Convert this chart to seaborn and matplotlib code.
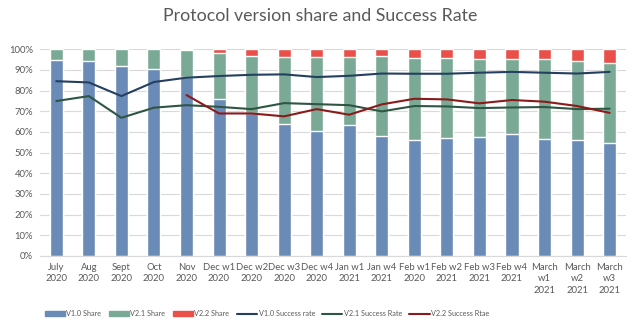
import numpy as np
import pandas as pd
import matplotlib
matplotlib.use("Agg")
import matplotlib.pyplot as plt
import seaborn as sns
from matplotlib.patches import Patch
from matplotlib.lines import Line2D

categories = ["July\n2020", "Aug\n2020", "Sept\n2020", "Oct\n2020", "Nov\n2020",
              "Dec w1\n2020", "Dec w2\n2020", "Dec w3\n2020", "Dec w4\n2020",
              "Jan w1\n2021", "Jan w4\n2021", "Feb w1\n2020", "Feb w2\n2021",
              "Feb w3\n2021", "Feb w4\n2021", "March\nw1\n2021", "March\nw2\n2021",
              "March\nw3\n2021"]

v10_share = [94.8, 94.2, 91.8, 90.3, 86.5, 75.8, 69.0, 63.8, 60.5, 63.1, 58.1,
             56.0, 57.2, 57.5, 58.9, 56.7, 56.0, 54.6]
v21_share = [5.2, 5.8, 8.2, 9.7, 13.0, 22.3, 27.9, 32.2, 35.5, 32.9, 38.5,
             39.8, 38.3, 37.5, 36.1, 38.3, 38.5, 38.5]
v22_share = [0.0, 0.0, 0.0, 0.0, 0.5, 1.9, 3.1, 4.0, 4.0, 4.0, 3.4,
             4.2, 4.5, 5.0, 5.0, 5.0, 5.5, 6.9]

v10_rate = [84.5, 83.9, 77.3, 84.1, 86.2, 87.0, 87.6, 87.8, 86.5, 87.1, 88.2,
            88.1, 88.1, 88.6, 89.0, 88.6, 88.2, 89.0]
v21_rate = [74.9, 77.3, 66.8, 71.7, 72.9, 72.1, 71.0, 73.9, 73.4, 72.9, 69.9,
            72.5, 72.3, 71.5, 71.8, 72.0, 71.0, 71.2]
v22_rate = [np.nan, np.nan, np.nan, np.nan, 77.8, 68.9, 68.9, 67.5, 71.0, 68.3, 73.3,
            76.0, 75.7, 73.8, 75.4, 74.6, 72.5, 69.2]

c_blue, c_green, c_red = "#6A8BB6", "#7AAA96", "#E9504A"
c_l1, c_l2, c_l3 = "#243F60", "#2F5543", "#8B1A1A"

sns.set_style("white")
plt.rcParams['font.family'] = ['Lato', 'DejaVu Sans']

fig = plt.figure(figsize=(6.4, 3.32), dpi=100)
ax = fig.add_axes([0.0625, 0.229, 0.9155, 0.623])

n = len(categories)
x = np.arange(n)
s1 = np.array(v10_share)
s2 = s1 + np.array(v21_share)
s3 = s2 + np.array(v22_share)
df = pd.DataFrame({"cat": categories, "s1": s1 / 100, "s2": s2 / 100, "s3": s3 / 100})

for col, c in [("s3", c_red), ("s2", c_green), ("s1", c_blue)]:
    sns.barplot(data=df, x="cat", y=col, color=c, width=0.4, ax=ax,
                saturation=1, zorder=2)

ldf = pd.DataFrame({"x": x, "r1": np.array(v10_rate) / 100,
                    "r2": np.array(v21_rate) / 100, "r3": np.array(v22_rate) / 100})
for col, c in [("r1", c_l1), ("r2", c_l2), ("r3", c_l3)]:
    sns.lineplot(data=ldf, x="x", y=col, color=c, linewidth=1.5, ax=ax, zorder=3)

ax.set_xlim(-0.5, n - 0.5)
ax.set_ylim(0, 1.0)
ax.set_yticks(np.arange(0, 1.01, 0.1))
ax.set_yticklabels([f"{int(v)}%" for v in np.arange(0, 101, 10)])
ax.set_xticks(x)
ax.set_xticklabels(categories, linespacing=1.35)
ax.set_xlabel("")
ax.set_ylabel("")
ax.grid(axis="y", color="#D9D9D9", linewidth=0.8, zorder=0)
ax.set_axisbelow(True)
for s in ["top", "right", "left"]:
    ax.spines[s].set_visible(False)
ax.spines["bottom"].set_color("#D9D9D9")
ax.tick_params(axis="x", length=0, labelsize=6.8, colors="#595959", pad=5)
ax.tick_params(axis="y", length=0, labelsize=6.8, colors="#595959", pad=5)

fig.suptitle("Protocol version share and Success Rate", x=0.5, y=0.975,
             fontsize=12.8, color="#595959")

handles = [Patch(color=c_blue), Patch(color=c_green), Patch(color=c_red),
           Line2D([], [], color=c_l1, lw=1.5), Line2D([], [], color=c_l2, lw=1.5),
           Line2D([], [], color=c_l3, lw=1.5)]
labels = ["V1.0 Share", "V2.1 Share", "V2.2 Share", "V1.0 Success rate",
          "V2.1 Success Rate", "V2.2 Success Rtae"]
leg = fig.legend(handles, labels, loc="center left", bbox_to_anchor=(0.07, 0.055), ncol=6,
                 frameon=False, fontsize=5.2, handlelength=2.8, handleheight=0.6,
                 columnspacing=1.0, handletextpad=0.2, borderpad=0, borderaxespad=0)
for t in leg.get_texts():
    t.set_color("#595959")

fig.savefig("out.png", dpi=100)
